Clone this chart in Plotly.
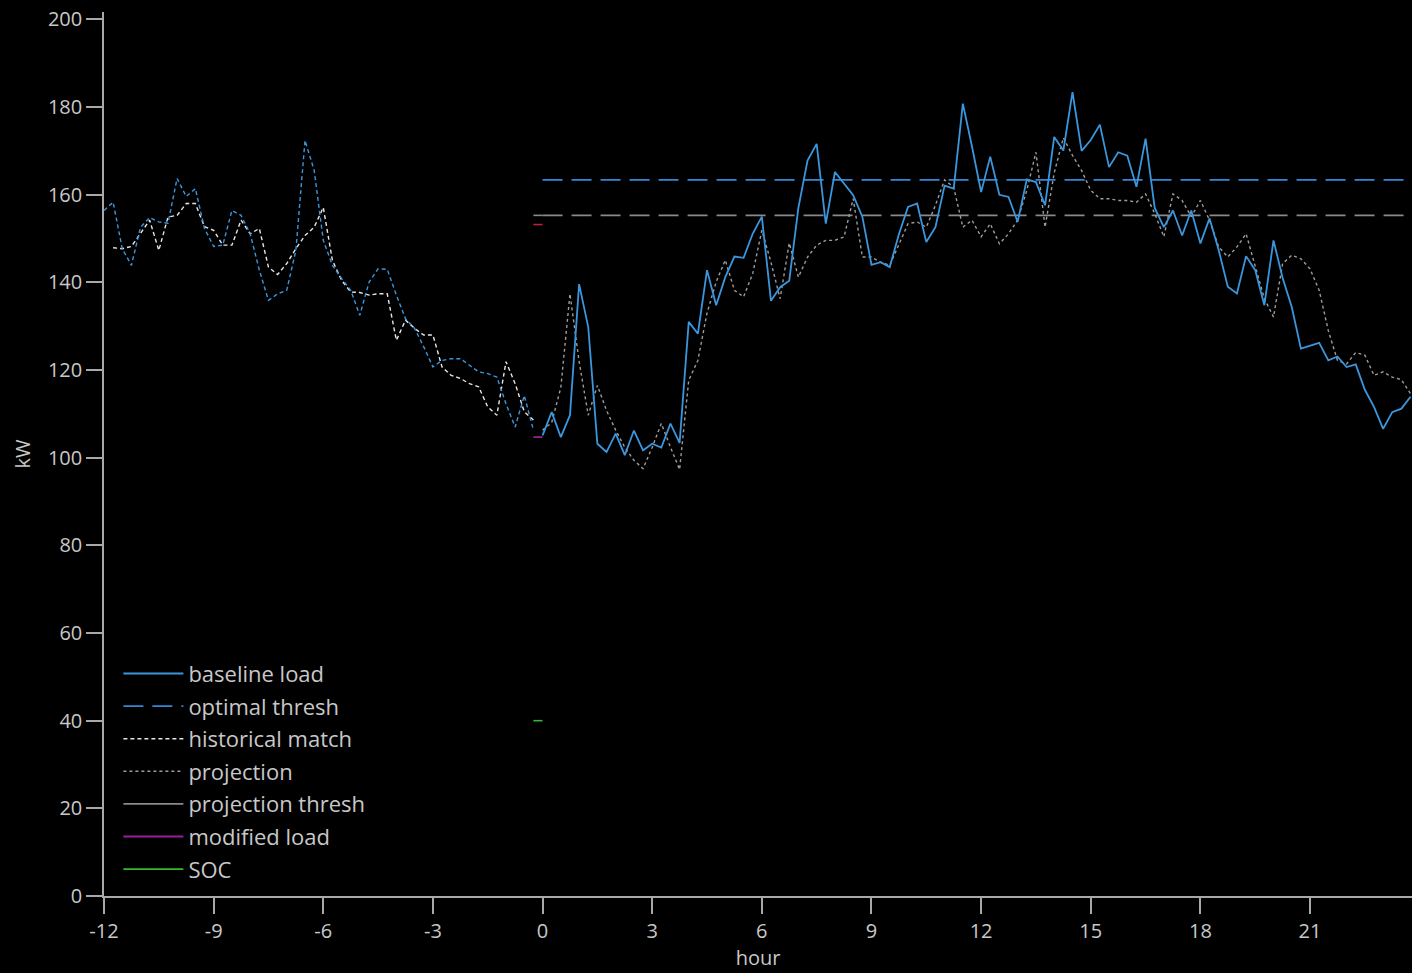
import numpy as np
import plotly.graph_objects as go

# time axes (hours relative to now, 15-minute steps)
hours_past = np.arange(-12, 0, 0.25)          # -12 .. -0.25
hours_future = np.arange(0, 24, 0.25)         # 0 .. 23.75
hours_hist = hours_past[1:]                   # -11.75 .. -0.25

# measured load before now (kW)
baseline_past = [
    156.4, 158.3, 147.7, 143.9, 152.6, 154.8, 153.8, 153.5, 163.7, 159.6,
    161.4, 152.3, 148.2, 148.5, 156.4, 155.3, 151.1, 142.8, 135.9, 137.4,
    138.2, 147.3, 172.4, 165.6, 149.6, 143.9, 140.9, 138.2, 132.5, 140.0,
    143.1, 143.0, 137.1, 131.7, 129.5, 125.3, 120.7, 122.2, 122.6, 122.6,
    121.1, 119.6, 119.2, 118.4, 112.3, 107.0, 114.2, 106.3,
]

# best matching historical day (kW)
historical_match = [
    147.9, 147.7, 148.2, 151.1, 154.2, 147.3, 154.9, 155.3, 158.0,
    158.0, 152.7, 151.9, 148.5, 148.5, 154.2, 151.1, 152.3, 143.5, 141.8,
    144.3, 147.7, 150.7, 152.6, 157.1, 145.0, 140.5, 137.8, 137.7, 137.1,
    137.4, 137.4, 126.8, 131.4, 129.5, 128.0, 128.0, 120.7, 118.8, 118.1,
    116.9, 116.2, 111.6, 109.7, 121.9, 116.9, 110.5, 108.6,
]

# baseline load over the coming day (kW)
baseline_future = [
    105.1, 110.4, 104.7, 109.7, 139.6, 129.8, 103.2, 101.3, 105.5, 100.6,
    106.2, 101.7, 103.2, 102.3, 107.8, 103.4, 131.0, 128.3, 142.8, 134.8,
    141.2, 145.9, 145.6, 151.1, 155.0, 135.8, 138.9, 140.4, 157.0, 167.8,
    171.6, 153.4, 165.2, 162.5, 159.9, 155.0, 144.0, 144.6, 143.5, 151.0,
    157.2, 158.0, 149.2, 152.6, 162.1, 161.4, 180.8, 171.0, 160.6, 168.7,
    160.0, 159.5, 153.8, 163.5, 162.9, 157.6, 173.2, 170.1, 183.4, 170.0,
    172.5, 176.0, 166.3, 169.7, 168.9, 161.8, 172.8, 157.0, 152.6, 156.4,
    150.7, 156.4, 148.9, 154.6, 147.4, 139.0, 137.5, 146.0, 142.8, 134.8,
    149.6, 141.0, 134.4, 124.9, 125.6, 126.2, 122.2, 123.1, 120.7, 121.3,
    115.5, 111.6, 106.6, 110.4, 111.2, 113.9,
]

# projected load over the coming day (kW)
projection = [
    106.3, 108.0, 116.0, 137.4, 122.0, 109.7, 116.5, 110.8, 106.3, 102.4,
    99.4, 97.5, 102.4, 107.8, 102.4, 97.3, 117.7, 122.2, 133.0, 140.1,
    145.1, 138.2, 136.7, 142.0, 151.9, 144.6, 136.3, 149.0, 141.2, 145.8,
    148.5, 149.6, 149.6, 150.4, 159.1, 145.8, 145.8, 144.6, 143.9, 148.8,
    153.4, 153.8, 152.6, 157.6, 163.4, 161.7, 152.6, 154.2, 150.4, 153.4,
    148.8, 151.1, 154.2, 161.0, 169.7, 152.6, 165.0, 173.0, 169.0, 165.5,
    161.0, 159.1, 159.1, 158.7, 158.7, 158.3, 160.2, 155.7, 150.4, 160.2,
    158.7, 155.0, 158.7, 154.2, 148.1, 145.8, 148.1, 151.1, 143.5, 136.3,
    132.1, 144.3, 146.2, 145.4, 143.1, 138.2, 129.0, 122.2, 121.4, 124.0,
    123.4, 118.8, 119.6, 118.4, 117.8, 114.6,
]

# thresholds and starting values (kW)
optimal_thresh = 163.4
projection_thresh = 155.3
target_level = 153.2
modified_load_start = 104.7
soc_start = 40.0

# axis ticks
x_ticks = [-12, -9, -6, -3, 0, 3, 6, 9, 12, 15, 18, 21]
x_tick_labels = ["-12", "-9", "-6", "-3", "0", "3", "6", "9", "12", "15", "18", "21"]
y_ticks = [0, 20, 40, 60, 80, 100, 120, 140, 160, 180, 200]

# short segment covering the last interval before now
seg_x = [-0.25, 0]
thresh_x = [hours_future[0], hours_future[-1]]

BLUE = "#3a96dd"
BLUE_DASH = "#3388d6"
WHITE = "#e6e6e6"
GRAY_PROJ = "#9c9c9c"
GRAY_THRESH = "#8a8a8a"
PURPLE = "#9a1f9a"
GREEN = "#33b833"
RED = "#c0203a"
TEXT = "#c8c8c8"
AXIS = "#a8a8a8"

fig = go.Figure()

# thresholds (drawn first so load lines sit on top)
fig.add_trace(go.Scatter(
    x=thresh_x, y=[projection_thresh] * 2, mode="lines",
    line=dict(color=GRAY_THRESH, width=1.6, dash="20px,9px"),
    showlegend=False, hoverinfo="skip"))
fig.add_trace(go.Scatter(
    x=thresh_x, y=[optimal_thresh] * 2, mode="lines", name="optimal thresh",
    line=dict(color=BLUE_DASH, width=1.6, dash="20px,9px"),
    legendrank=2, legendgroup="g2"))
fig.add_trace(go.Scatter(
    x=seg_x, y=[projection_thresh] * 2, mode="lines", name="projection thresh",
    line=dict(color=GRAY_THRESH, width=1.6),
    legendrank=5, legendgroup="g5"))
fig.add_trace(go.Scatter(
    x=seg_x, y=[target_level] * 2, mode="lines",
    line=dict(color=RED, width=1.6), showlegend=False))

# history
fig.add_trace(go.Scatter(
    x=hours_hist, y=historical_match, mode="lines", name="historical match",
    line=dict(color=WHITE, width=1.4, dash="4px,3px"),
    legendrank=3, legendgroup="g3"))
fig.add_trace(go.Scatter(
    x=hours_past, y=baseline_past, mode="lines",
    line=dict(color=BLUE, width=1.4, dash="4px,3px"), showlegend=False))

# coming day
fig.add_trace(go.Scatter(
    x=hours_future, y=projection, mode="lines", name="projection",
    line=dict(color=GRAY_PROJ, width=1.4, dash="3px,3px"),
    legendrank=4, legendgroup="g4"))
fig.add_trace(go.Scatter(
    x=hours_future, y=baseline_future, mode="lines", name="baseline load",
    line=dict(color=BLUE, width=1.8),
    legendrank=1, legendgroup="g1"))

fig.add_trace(go.Scatter(
    x=seg_x, y=[modified_load_start] * 2, mode="lines", name="modified load",
    line=dict(color=PURPLE, width=1.8),
    legendrank=6, legendgroup="g6"))
fig.add_trace(go.Scatter(
    x=seg_x, y=[soc_start] * 2, mode="lines", name="SOC",
    line=dict(color=GREEN, width=1.6),
    legendrank=7, legendgroup="g7"))

font_family = "Open Sans, Noto Sans, DejaVu Sans, sans-serif"

fig.update_layout(
    width=1412, height=973,
    paper_bgcolor="#000000", plot_bgcolor="#000000",
    margin=dict(l=104, r=0, t=12, b=77),
    font=dict(family=font_family, size=20, color=TEXT),
    showlegend=True,
    legend=dict(
        x=0.011, y=0.006, xanchor="left", yanchor="bottom",
        bgcolor="rgba(0,0,0,0)", borderwidth=0,
        font=dict(family=font_family, size=22, color=TEXT),
        itemwidth=60, traceorder="grouped", tracegroupgap=1,
    ),
    xaxis=dict(
        range=[-12, 23.79], tickmode="array",
        tickvals=x_ticks, ticktext=x_tick_labels,
        ticks="outside", ticklen=16, tickwidth=1.5, tickcolor=AXIS,
        showline=True, linecolor=AXIS, linewidth=1.5,
        showgrid=False, zeroline=False,
        title=dict(text="hour", standoff=6, font=dict(size=20, color=TEXT)),
        tickfont=dict(size=20, color=TEXT),
    ),
    yaxis=dict(
        range=[0, 201.7], tickmode="array",
        tickvals=y_ticks,
        ticks="outside", ticklen=16, tickwidth=1.5, tickcolor=AXIS,
        showline=True, linecolor=AXIS, linewidth=1.5,
        showgrid=False, zeroline=False,
        title=dict(text="kW", standoff=12, font=dict(size=20, color=TEXT)),
        tickfont=dict(size=20, color=TEXT),
    ),
)

fig.write_html("out.html")
